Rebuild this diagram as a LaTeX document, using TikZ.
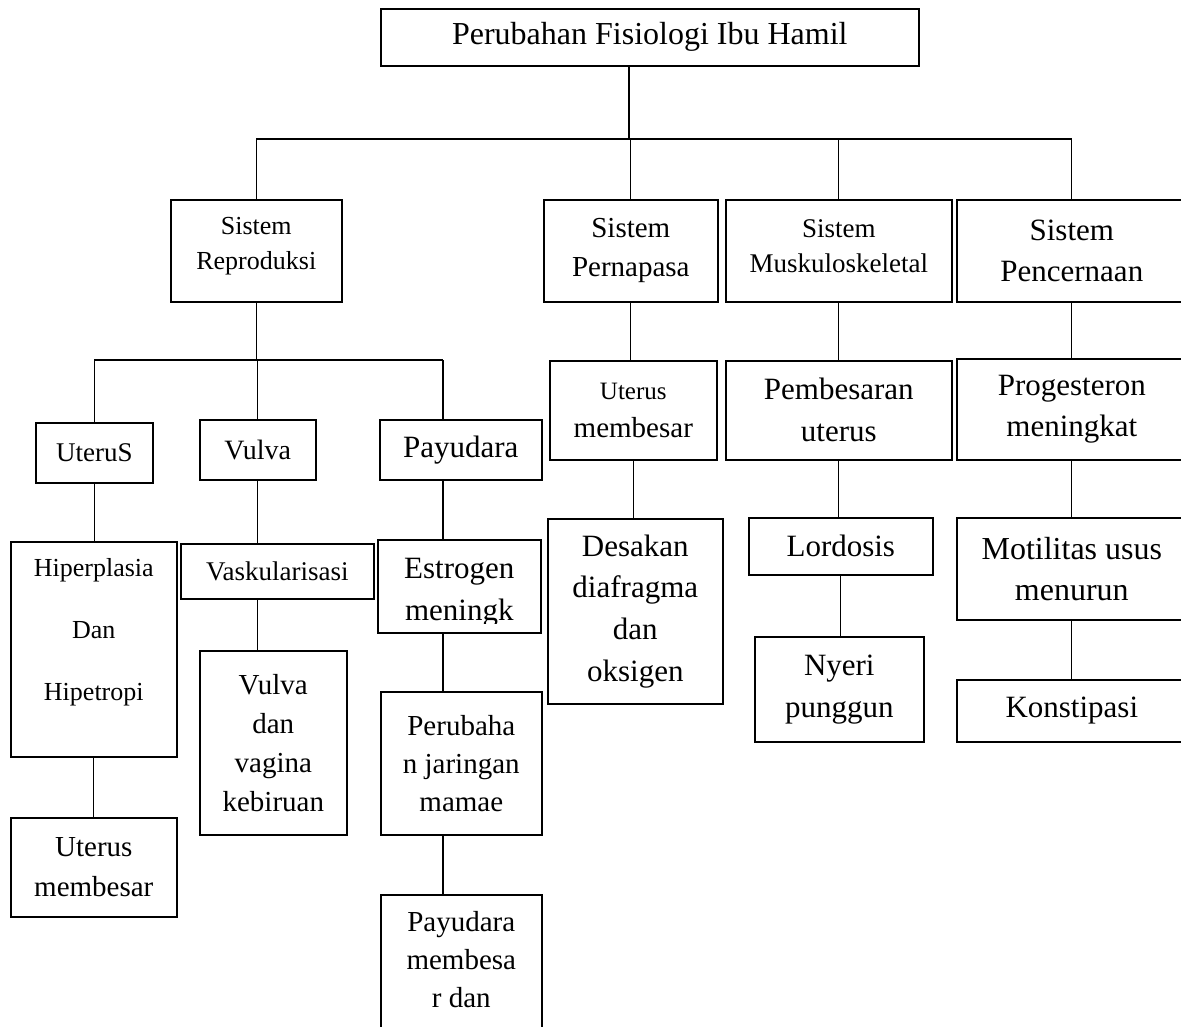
\documentclass[tikz,border=0pt]{standalone}
\usepackage{fontspec}
\setmainfont{Liberation Serif}

\begin{document}
\begin{tikzpicture}[
  x=1pt, y=-1pt,
  kotak/.style={draw, line width=1.6pt, anchor=north west, align=center, inner sep=0pt},
  isi/.style={anchor=north, align=center, inner sep=0pt},
  garis/.style={line width=1.3pt}
]
\useasboundingbox (0,0) rectangle (1181,1027);

% judul
\node[kotak, minimum width=538pt, minimum height=57pt, font=\fontsize{32}{38}\selectfont]
  (judul) at (380,8) {Perubahan Fisiologi Ibu Hamil};

% sistem
\node[kotak, minimum width=171pt, minimum height=102pt, text depth=15pt, font=\fontsize{26}{35}\selectfont]
  (repro) at (170,199) {Sistem\\Reproduksi};
\node[kotak, minimum width=174pt, minimum height=102pt, font=\fontsize{29}{39}\selectfont]
  (napas) at (543,199) {Sistem\\Pernapasa};
\node[kotak, minimum width=226pt, minimum height=102pt, text depth=10pt, font=\fontsize{27}{35}\selectfont]
  (musk) at (725,199) {Sistem\\Muskuloskeletal};
\node[kotak, minimum width=230pt, minimum height=102pt, font=\fontsize{31}{41}\selectfont]
  (cerna) at (956,199) {Sistem\\Pencernaan};

% reproduksi
\node[kotak, minimum width=117pt, minimum height=60pt, font=\fontsize{27}{35}\selectfont]
  (uterus) at (35,422) {UteruS};
\node[kotak, minimum width=116pt, minimum height=60pt, font=\fontsize{28}{35}\selectfont]
  (vulva) at (199,419) {Vulva};
\node[kotak, minimum width=162pt, minimum height=60pt, font=\fontsize{31}{41}\selectfont]
  (payu) at (379,419) {Payudara};
\node[kotak, minimum width=166pt, minimum height=215pt, text depth=39pt, font=\fontsize{26}{62}\selectfont]
  (hiper) at (10,541) {Hiperplasia\\Dan\\Hipetropi};
\node[kotak, minimum width=166pt, minimum height=99pt, font=\fontsize{29}{40}\selectfont]
  (uterbesar) at (10,817) {Uterus\\membesar};
\node[kotak, minimum width=193pt, minimum height=55pt, font=\fontsize{27}{35}\selectfont]
  (vask) at (180,543) {Vaskularisasi};
\node[kotak, minimum width=147pt, minimum height=184pt, font=\fontsize{29}{39}\selectfont]
  (kebiru) at (199,650) {Vulva\\dan\\vagina\\kebiruan};
\node[kotak, minimum width=163pt, minimum height=93pt] (estro) at (377,539) {};
\begin{scope}
  \clip (estro.north west) rectangle ([yshift=10pt]estro.south east);
  \node[isi, font=\fontsize{31}{42}\selectfont] (estroisi) at ([yshift=-18.5pt]estro.north) {Estrogen\\meningk};
\end{scope}
\node[kotak, minimum width=161pt, minimum height=143pt, font=\fontsize{29}{38}\selectfont]
  (jaringan) at (380,691) {Perubaha\\n jaringan\\mamae};
\node[kotak, minimum width=161pt, minimum height=170pt] (paybesar) at (380,894) {};
\node[isi, font=\fontsize{29}{38}\selectfont] (paybesarisi) at ([yshift=-17pt]paybesar.north)
  {Payudara\\membesa\\r dan};

% pernapasan
\node[kotak, minimum width=167pt, minimum height=99pt, font=\fontsize{29}{38}\selectfont]
  (uternapas) at (549,360) {{\fontsize{25}{38}\selectfont Uterus}\\membesar};
\node[kotak, minimum width=175pt, minimum height=185pt, font=\fontsize{31}{41.7}\selectfont]
  (desak) at (547,518) {Desakan\\diafragma\\dan\\oksigen};

% muskuloskeletal
\node[kotak, minimum width=226pt, minimum height=99pt, font=\fontsize{31}{42}\selectfont]
  (besar) at (725,360) {Pembesaran\\uterus};
\node[kotak, minimum width=184pt, minimum height=57pt, font=\fontsize{31}{41}\selectfont]
  (lordo) at (748,517) {Lordosis};
\node[kotak, minimum width=169pt, minimum height=105pt, font=\fontsize{31}{42}\selectfont]
  (nyeri) at (754,636) {Nyeri\\punggun};

% pencernaan
\node[kotak, minimum width=230pt, minimum height=101pt, font=\fontsize{31}{41}\selectfont]
  (proge) at (956,358) {Progesteron\\meningkat};
\node[kotak, minimum width=230pt, minimum height=102pt, font=\fontsize{32}{41}\selectfont]
  (motil) at (956,517) {Motilitas usus\\menurun};
\node[kotak, minimum width=230pt, minimum height=62pt, font=\fontsize{31}{41}\selectfont]
  (konsti) at (956,679) {Konstipasi};

% garis penghubung
\coordinate (bus1) at (629,139);
\coordinate (bus2) at (257,360);
\coordinate (kolpay) at (443,360);

\draw[garis] (judul.south -| bus1) -- (bus1);
\draw[garis] (repro.north |- bus1) -- (cerna.north |- bus1);
\foreach \n in {repro,napas,musk,cerna}
  \draw[garis] (\n.north |- bus1) -- (\n.north);

\draw[garis] (repro.south) -- (repro.south |- bus2);
\draw[garis] (uterus.north |- bus2) -- (kolpay);
\draw[garis] (uterus.north |- bus2) -- (uterus.north);
\draw[garis] (vulva.north |- bus2) -- (vulva.north);
\draw[garis] (kolpay) -- (kolpay |- payu.north);
\draw[garis] (uterus.south) -- (uterus.south |- hiper.north);
\draw[garis] (hiper.south) -- (hiper.south |- uterbesar.north);
\draw[garis] (vulva.south) -- (vulva.south |- vask.north);
\draw[garis] (vulva.south |- vask.south) -- (vulva.south |- kebiru.north);
\draw[garis] (kolpay |- payu.south) -- (kolpay |- estro.north);
\draw[garis] (kolpay |- estro.south) -- (kolpay |- jaringan.north);
\draw[garis] (kolpay |- jaringan.south) -- (kolpay |- paybesar.north);

\draw[garis] (napas.south) -- (napas.south |- uternapas.north);
\draw[garis] (uternapas.south) -- (uternapas.south |- desak.north);
\draw[garis] (musk.south) -- (musk.south |- besar.north);
\draw[garis] (besar.south) -- (besar.south |- lordo.north);
\draw[garis] (lordo.south) -- (lordo.south |- nyeri.north);
\draw[garis] (cerna.south) -- (cerna.south |- proge.north);
\draw[garis] (proge.south) -- (proge.south |- motil.north);
\draw[garis] (motil.south) -- (motil.south |- konsti.north);
\end{tikzpicture}
\end{document}
